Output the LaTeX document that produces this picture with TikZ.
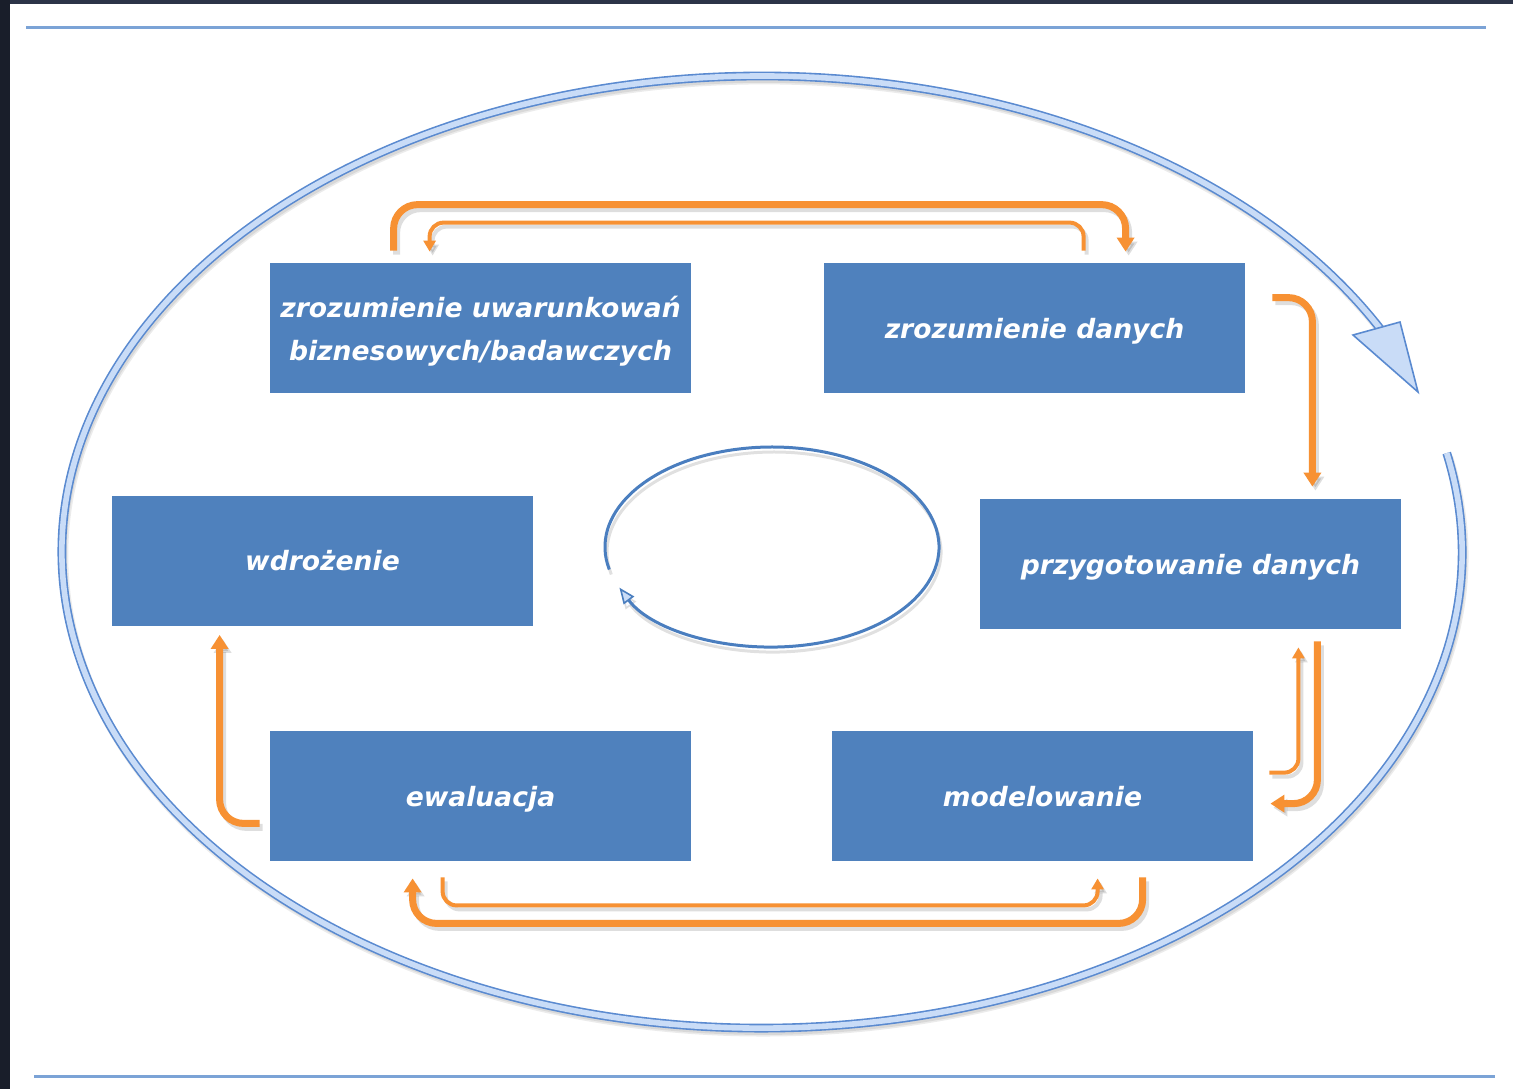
\documentclass[tikz,border=0pt]{standalone}
\usepackage{fontspec}
\setmainfont{DejaVu Sans}
\usetikzlibrary{arrows.meta}
\definecolor{boxblue}{HTML}{4F81BD}
\definecolor{orng}{HTML}{F79133}
\definecolor{ringline}{HTML}{5A8AD0}
\definecolor{ringfill}{HTML}{C9DCF7}
\definecolor{innerblue}{HTML}{4A7EBF}
\definecolor{hlinecol}{HTML}{7BA3D6}
\definecolor{darktop}{HTML}{2C3448}
\definecolor{darkleft}{HTML}{191E2A}
\newcommand\ShadowArrow[2]{%
  \draw[#1,transform canvas={xshift=1.5pt,yshift=-2pt},draw=black,opacity=0.13] #2;
  \draw[#1] #2;}
\begin{document}
\begin{tikzpicture}[x=0.5pt,y=-0.5pt,
  box/.style={fill=boxblue, text=white, align=center, inner sep=0pt,
    minimum width=210.5pt, minimum height=65pt, text depth=0pt,
    font=\fontsize{13.3}{21.5}\selectfont\bfseries\itshape},
  thk/.style={draw=orng, line width=3.5pt, rounded corners=12pt,
    -{Triangle[width=8.5pt,length=7pt]}},
  thn/.style={draw=orng, line width=2pt, rounded corners=7pt,
    -{Triangle[width=6pt,length=5.5pt]}},
  ring/.style={draw=ringline, line width=0.8pt, double=ringfill, double distance=2.8pt},
  innerring/.style={draw=innerblue, line width=1.5pt,
    -{Triangle[width=6.5pt,length=8pt,fill=ringfill,line width=0.8pt]}},
  hline/.style={draw=hlinecol, line width=1.5pt}]
\useasboundingbox (0,0) rectangle (1513,1089);
\fill[white] (0,0) rectangle (1513,1089);
\fill[darktop] (0,0) rectangle (1513,4);
\fill[darkleft] (0,0) rectangle (10,1089);
\draw[hline] (26,27) -- (1486,27);
\draw[hline] (34,1076) -- (1495,1076);

% outer ring arrow
\draw[ring,transform canvas={xshift=1pt,yshift=-2pt},draw=black,double=black,opacity=0.08]
  (762,552) ++(-12:700 and 476)
  arc[start angle=-12,end angle=332,x radius=700,y radius=476];
\draw[ring] (762,552) ++(-12:700 and 476)
  arc[start angle=-12,end angle=332,x radius=700,y radius=476];
\filldraw[fill=ringfill, draw=ringline, line width=0.8pt, line join=miter]
  (1353,335) -- (1418,392) -- (1400,322) -- cycle;

% inner ring arrow
\draw[innerring,transform canvas={xshift=1pt,yshift=-2.5pt},draw=black,opacity=0.12]
  (772,547) ++(167:167 and 100) arc[start angle=167,end angle=516,x radius=167,y radius=100];
\draw[innerring] (772,547) ++(167:167 and 100)
  arc[start angle=167,end angle=516,x radius=167,y radius=100];

% boxes
\node[box] (b1) at (480.5,328) {zrozumienie uwarunkowań\\biznesowych/badawczych};
\node[box] (b2) at (1034.5,328) {zrozumienie danych};
\node[box] (b3) at (1190.5,564) {przygotowanie danych};
\node[box] (b4) at (322.5,560.5) {wdrożenie};
\node[box] (b5) at (480.5,796) {ewaluacja};
\node[box] (b6) at (1042.5,796) {modelowanie};

% orange connectors
\ShadowArrow{thk}{([shift={(124,-12)}]b1.north west) |- ([shift={(302,-58)}]b2.north west) -- ([shift={(302,-11)}]b2.north west)}
\ShadowArrow{thn}{([shift={(260,-12)}]b2.north west) |- ([shift={(160,-40)}]b1.north west) -- ([shift={(160,-11)}]b1.north west)}
\ShadowArrow{thk}{([shift={(27,35)}]b2.north east) -| ([shift={(-89,-12)}]b3.north east)}
\ShadowArrow{thn}{([shift={(16,42)}]b6.north east) -| ([shift={(-103,18)}]b3.south east)}
\ShadowArrow{thk}{([shift={(-84,12)}]b3.south east) |- ([shift={(17,73)}]b6.north east)}
\ShadowArrow{thn}{([shift={(173,16)}]b5.south west) |- ([shift={(266,44)}]b6.south west) -- ([shift={(266,17)}]b6.south west)}
\ShadowArrow{thk}{([shift={(311,16)}]b6.south west) |- ([shift={(143,62)}]b5.south west) -- ([shift={(143,17)}]b5.south west)}
\ShadowArrow{thk}{([shift={(-10,-38)}]b5.south west) -| ([shift={(108,9)}]b4.south west)}
\end{tikzpicture}
\end{document}
